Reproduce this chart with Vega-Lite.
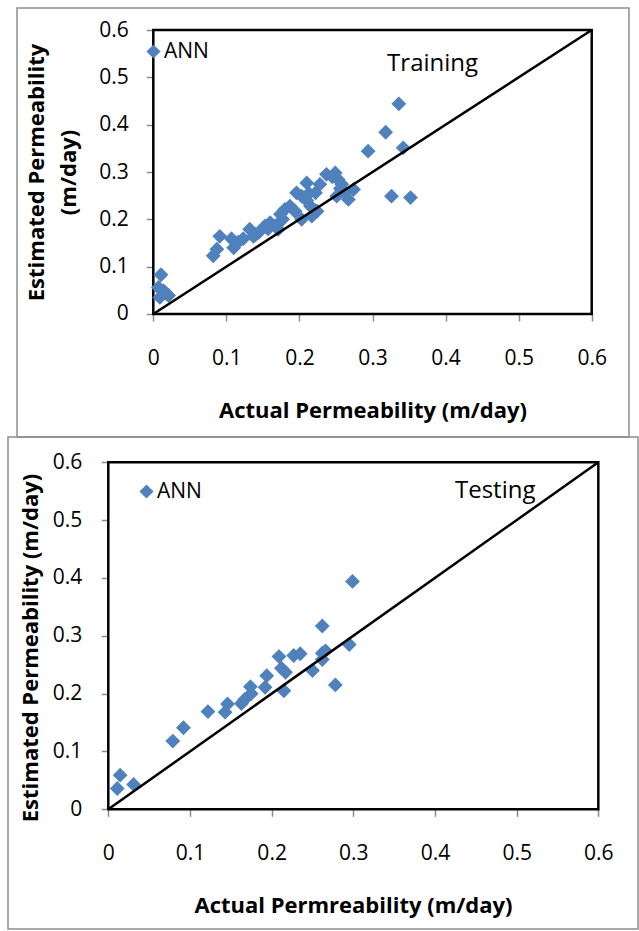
{
  "$schema": "https://vega.github.io/schema/vega-lite/v6.json",
  "padding": {"left": 7, "top": 7, "right": 0, "bottom": 0},
  "background": "white",
  "bounds": "flush",
  "center": true,
  "spacing": 0,
  "resolve": {"scale": {"color": "independent"}, "legend": {"color": "independent"}},
  "config": {
    "font": "Open Sans",
    "view": {"stroke": "#8f8f8f", "strokeWidth": 1.5},
    "axis": {"domain": false, "grid": false, "tickColor": "#8c8c8c", "tickSize": 7, "tickWidth": 1.5, "labelFont": "Open Sans", "labelFontSize": 21, "labelColor": "black", "labelFlush": false, "labelOverlap": false, "titleFont": "Open Sans", "titleFontSize": 22, "titleFontWeight": "bold", "titleColor": "black"}
  },
  "datasets": {
    "train": [
      {"series": "ANN", "actual": 0.0105, "estimated": 0.083},
      {"series": "ANN", "actual": 0.007, "estimated": 0.056},
      {"series": "ANN", "actual": 0.014, "estimated": 0.049},
      {"series": "ANN", "actual": 0.021, "estimated": 0.039},
      {"series": "ANN", "actual": 0.009, "estimated": 0.035},
      {"series": "ANN", "actual": 0.017, "estimated": 0.044},
      {"series": "ANN", "actual": 0.082, "estimated": 0.123},
      {"series": "ANN", "actual": 0.087, "estimated": 0.137},
      {"series": "ANN", "actual": 0.091, "estimated": 0.164},
      {"series": "ANN", "actual": 0.107, "estimated": 0.159},
      {"series": "ANN", "actual": 0.110, "estimated": 0.140},
      {"series": "ANN", "actual": 0.116, "estimated": 0.152},
      {"series": "ANN", "actual": 0.123, "estimated": 0.159},
      {"series": "ANN", "actual": 0.132, "estimated": 0.179},
      {"series": "ANN", "actual": 0.137, "estimated": 0.164},
      {"series": "ANN", "actual": 0.140, "estimated": 0.168},
      {"series": "ANN", "actual": 0.144, "estimated": 0.172},
      {"series": "ANN", "actual": 0.153, "estimated": 0.186},
      {"series": "ANN", "actual": 0.157, "estimated": 0.180},
      {"series": "ANN", "actual": 0.160, "estimated": 0.193},
      {"series": "ANN", "actual": 0.167, "estimated": 0.186},
      {"series": "ANN", "actual": 0.171, "estimated": 0.179},
      {"series": "ANN", "actual": 0.174, "estimated": 0.211},
      {"series": "ANN", "actual": 0.177, "estimated": 0.200},
      {"series": "ANN", "actual": 0.180, "estimated": 0.221},
      {"series": "ANN", "actual": 0.187, "estimated": 0.228},
      {"series": "ANN", "actual": 0.194, "estimated": 0.217},
      {"series": "ANN", "actual": 0.196, "estimated": 0.256},
      {"series": "ANN", "actual": 0.203, "estimated": 0.249},
      {"series": "ANN", "actual": 0.203, "estimated": 0.200},
      {"series": "ANN", "actual": 0.210, "estimated": 0.277},
      {"series": "ANN", "actual": 0.210, "estimated": 0.240},
      {"series": "ANN", "actual": 0.213, "estimated": 0.255},
      {"series": "ANN", "actual": 0.215, "estimated": 0.228},
      {"series": "ANN", "actual": 0.217, "estimated": 0.207},
      {"series": "ANN", "actual": 0.224, "estimated": 0.217},
      {"series": "ANN", "actual": 0.222, "estimated": 0.256},
      {"series": "ANN", "actual": 0.228, "estimated": 0.274},
      {"series": "ANN", "actual": 0.237, "estimated": 0.295},
      {"series": "ANN", "actual": 0.245, "estimated": 0.290},
      {"series": "ANN", "actual": 0.249, "estimated": 0.298},
      {"series": "ANN", "actual": 0.253, "estimated": 0.284},
      {"series": "ANN", "actual": 0.258, "estimated": 0.274},
      {"series": "ANN", "actual": 0.256, "estimated": 0.265},
      {"series": "ANN", "actual": 0.251, "estimated": 0.249},
      {"series": "ANN", "actual": 0.263, "estimated": 0.256},
      {"series": "ANN", "actual": 0.267, "estimated": 0.242},
      {"series": "ANN", "actual": 0.274, "estimated": 0.263},
      {"series": "ANN", "actual": 0.294, "estimated": 0.344},
      {"series": "ANN", "actual": 0.318, "estimated": 0.384},
      {"series": "ANN", "actual": 0.336, "estimated": 0.444},
      {"series": "ANN", "actual": 0.342, "estimated": 0.351},
      {"series": "ANN", "actual": 0.326, "estimated": 0.249},
      {"series": "ANN", "actual": 0.352, "estimated": 0.246}
    ],
    "test": [
      {"series": "ANN", "actual": 0.011, "estimated": 0.036},
      {"series": "ANN", "actual": 0.0145, "estimated": 0.059},
      {"series": "ANN", "actual": 0.031, "estimated": 0.043},
      {"series": "ANN", "actual": 0.079, "estimated": 0.118},
      {"series": "ANN", "actual": 0.092, "estimated": 0.141},
      {"series": "ANN", "actual": 0.122, "estimated": 0.169},
      {"series": "ANN", "actual": 0.143, "estimated": 0.168},
      {"series": "ANN", "actual": 0.146, "estimated": 0.182},
      {"series": "ANN", "actual": 0.163, "estimated": 0.183},
      {"series": "ANN", "actual": 0.167, "estimated": 0.190},
      {"series": "ANN", "actual": 0.174, "estimated": 0.212},
      {"series": "ANN", "actual": 0.175, "estimated": 0.200},
      {"series": "ANN", "actual": 0.192, "estimated": 0.211},
      {"series": "ANN", "actual": 0.194, "estimated": 0.231},
      {"series": "ANN", "actual": 0.209, "estimated": 0.264},
      {"series": "ANN", "actual": 0.212, "estimated": 0.244},
      {"series": "ANN", "actual": 0.217, "estimated": 0.237},
      {"series": "ANN", "actual": 0.215, "estimated": 0.205},
      {"series": "ANN", "actual": 0.227, "estimated": 0.266},
      {"series": "ANN", "actual": 0.235, "estimated": 0.269},
      {"series": "ANN", "actual": 0.250, "estimated": 0.240},
      {"series": "ANN", "actual": 0.262, "estimated": 0.317},
      {"series": "ANN", "actual": 0.262, "estimated": 0.270},
      {"series": "ANN", "actual": 0.262, "estimated": 0.259},
      {"series": "ANN", "actual": 0.266, "estimated": 0.274},
      {"series": "ANN", "actual": 0.278, "estimated": 0.215},
      {"series": "ANN", "actual": 0.295, "estimated": 0.285},
      {"series": "ANN", "actual": 0.299, "estimated": 0.394}
    ],
    "diagonal": [
      {"actual": 0, "estimated": 0},
      {"actual": 0.6, "estimated": 0.6}
    ]
  },
  "vconcat": [
    {
      "width": 612,
      "height": 429,
      "layer": [
        {
          "data": {"values": [{}]},
          "mark": {"type": "rect", "fill": "transparent", "stroke": "black", "strokeWidth": 2.5},
          "encoding": {
            "x": {"datum": 0, "type": "quantitative", "scale": {"domain": [-0.18654, 0.65103], "nice": false, "zero": false}},
            "x2": {"datum": 0.6},
            "y": {"datum": 0, "type": "quantitative", "scale": {"domain": [-0.25986, 0.64648], "nice": false, "zero": false}},
            "y2": {"datum": 0.6}
          }
        },
        {
          "data": {"name": "train"},
          "mark": {"type": "point", "shape": "diamond", "filled": true, "size": 220, "opacity": 1},
          "encoding": {
            "x": {"field": "actual", "type": "quantitative", "scale": {"domain": [-0.18654, 0.65103], "nice": false, "zero": false},
              "axis": {"values": [0, 0.1, 0.2, 0.3, 0.4, 0.5, 0.6], "format": "~g", "offset": -123, "labelPadding": 26, "title": "Actual Permeability (m/day)", "titleX": 355.5, "titleY": 103, "titleBaseline": "alphabetic", "titleAlign": "center"}},
            "y": {"field": "estimated", "type": "quantitative", "scale": {"domain": [-0.25986, 0.64648], "nice": false, "zero": false},
              "axis": {"values": [0, 0.1, 0.2, 0.3, 0.4, 0.5, 0.6], "format": "~g", "offset": -136.3, "labelPadding": 18, "title": ["Estimated Permeability", "(m/day)"], "titleX": -110, "titleY": 164, "titleAngle": -90, "titleBaseline": "alphabetic", "titleAlign": "center", "titleLineHeight": 32}},
            "color": {"field": "series", "type": "nominal", "scale": {"range": ["#4F81BD"]},
              "legend": {"orient": "none", "legendX": 126, "legendY": 33, "title": null, "symbolType": "diamond", "symbolSize": 200, "symbolStrokeWidth": 0, "labelFontSize": 21, "labelFont": "Open Sans", "labelColor": "black", "labelOffset": 0, "padding": 0}}
          }
        },
        {
          "data": {"name": "diagonal"},
          "mark": {"type": "line", "color": "black", "strokeWidth": 2.5},
          "encoding": {
            "x": {"field": "actual", "type": "quantitative", "scale": {"domain": [-0.18654, 0.65103], "nice": false, "zero": false}},
            "y": {"field": "estimated", "type": "quantitative", "scale": {"domain": [-0.25986, 0.64648], "nice": false, "zero": false}}
          }
        },
        {
          "data": {"values": [{}]},
          "mark": {"type": "text", "text": "Training", "align": "left", "baseline": "alphabetic", "fontSize": 24, "font": "Open Sans", "color": "black"},
          "encoding": {
            "x": {"datum": 0.32, "type": "quantitative", "scale": {"domain": [-0.18654, 0.65103], "nice": false, "zero": false}},
            "y": {"datum": 0.513, "type": "quantitative", "scale": {"domain": [-0.25986, 0.64648], "nice": false, "zero": false}}
          }
        }
      ]
    },
    {
      "width": 630,
      "height": 492,
      "layer": [
        {
          "data": {"values": [{}]},
          "mark": {"type": "rect", "fill": "transparent", "stroke": "black", "strokeWidth": 2.5},
          "encoding": {
            "x": {"datum": 0, "type": "quantitative", "scale": {"domain": [-0.12281, 0.64859], "nice": false, "zero": false}},
            "x2": {"datum": 0.6},
            "y": {"datum": 0, "type": "quantitative", "scale": {"domain": [-0.20699, 0.64375], "nice": false, "zero": false}},
            "y2": {"datum": 0.6}
          }
        },
        {
          "data": {"name": "test"},
          "mark": {"type": "point", "shape": "diamond", "filled": true, "size": 220, "opacity": 1},
          "encoding": {
            "x": {"field": "actual", "type": "quantitative", "scale": {"domain": [-0.12281, 0.64859], "nice": false, "zero": false},
              "axis": {"values": [0, 0.1, 0.2, 0.3, 0.4, 0.5, 0.6], "format": "~g", "offset": -119.7, "labelPadding": 26, "title": "Actual Permreability (m/day)", "titleX": 345, "titleY": 103, "titleBaseline": "alphabetic", "titleAlign": "center"}},
            "y": {"field": "estimated", "type": "quantitative", "scale": {"domain": [-0.20699, 0.64375], "nice": false, "zero": false},
              "axis": {"values": [0, 0.1, 0.2, 0.3, 0.4, 0.5, 0.6], "format": "~g", "offset": -100.3, "labelPadding": 19.5, "title": "Estimated Permeability (m/day)", "titleX": -71, "titleY": 210.5, "titleAngle": -90, "titleBaseline": "alphabetic", "titleAlign": "center"}},
            "color": {"field": "series", "type": "nominal", "scale": {"range": ["#4F81BD"]},
              "legend": {"orient": "none", "legendX": 128, "legendY": 44, "title": null, "symbolType": "diamond", "symbolSize": 200, "symbolStrokeWidth": 0, "labelFontSize": 21, "labelFont": "Open Sans", "labelColor": "black", "labelOffset": 0, "padding": 0}}
          }
        },
        {
          "data": {"name": "diagonal"},
          "mark": {"type": "line", "color": "black", "strokeWidth": 2.5},
          "encoding": {
            "x": {"field": "actual", "type": "quantitative", "scale": {"domain": [-0.12281, 0.64859], "nice": false, "zero": false}},
            "y": {"field": "estimated", "type": "quantitative", "scale": {"domain": [-0.20699, 0.64375], "nice": false, "zero": false}}
          }
        },
        {
          "data": {"values": [{}]},
          "mark": {"type": "text", "text": "Testing", "align": "left", "baseline": "alphabetic", "fontSize": 24, "font": "Open Sans", "color": "black"},
          "encoding": {
            "x": {"datum": 0.4245, "type": "quantitative", "scale": {"domain": [-0.12281, 0.64859], "nice": false, "zero": false}},
            "y": {"datum": 0.538, "type": "quantitative", "scale": {"domain": [-0.20699, 0.64375], "nice": false, "zero": false}}
          }
        }
      ]
    }
  ]
}
